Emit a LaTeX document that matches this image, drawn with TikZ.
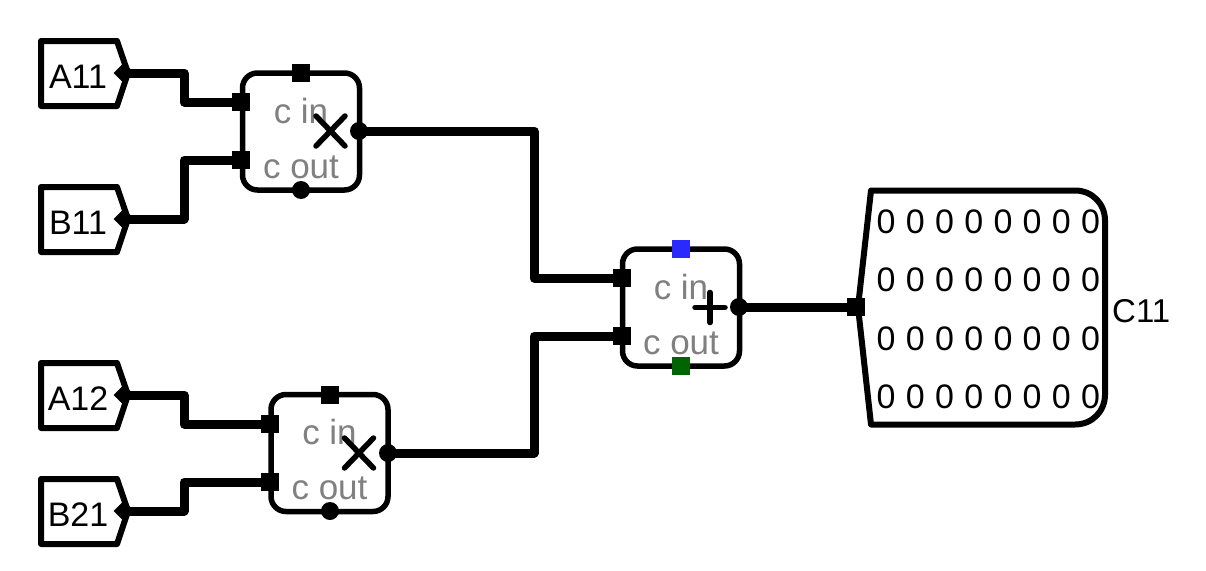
\documentclass[tikz,border=0pt]{standalone}
\usepackage{fontspec}
\setmainfont{Liberation Sans}
\usetikzlibrary{shapes.geometric}
\definecolor{portblue}{HTML}{2A2AFF}
\definecolor{portgreen}{HTML}{006400}
\definecolor{labelgray}{HTML}{808080}
\tikzset{
  wire/.style={line width=9pt,line join=round},
  tagbox/.style={line width=6pt,line join=round,fill=white},
  opbox/.style={draw,line width=5.5pt,rounded corners=15pt,minimum width=117pt,minimum height=117pt,inner sep=0pt,fill=white},
  sqport/.style={rectangle,fill=black,minimum size=18pt,inner sep=0pt},
  dotport/.style={circle,fill=black,minimum size=18pt,inner sep=0pt},
  dmdport/.style={diamond,fill=black,minimum width=21pt,minimum height=21pt,inner sep=0pt},
  bigtxt/.style={font=\fontsize{34}{38}\selectfont,inner sep=0pt},
  graytxt/.style={font=\fontsize{35}{40}\selectfont,text=labelgray,inner sep=0pt,anchor=base},
  opmark/.style={line width=5.5pt,line cap=round},
}
\newcommand{\inputtag}[4]{% name, top y, tip y, text
  \draw[tagbox] (41,#2) -- (117,#2) -- (128,#3) -- (117,#2+65) -- (41,#2+65) -- cycle;
  \node[bigtxt] (#1) at (78,#3+3.5) {#4};
  \node[dmdport] (#1p) at (124,#3) {};
}
\begin{document}
\begin{tikzpicture}[x=1pt,y=-1pt]
\useasboundingbox (0,0) rectangle (1206,570);
\fill[white] (0,0) rectangle (1206,570);
\coordinate (v1) at (184,0);
\coordinate (v2) at (534,0);
% input tags
\inputtag{a11}{41}{73}{A11}
\inputtag{b11}{187}{219}{B11}
\inputtag{a12}{363}{395}{A12}
\inputtag{b21}{479}{511}{B21}
% operator boxes
\node[opbox] (m1) at (301,131.5) {};
\node[opbox] (m2) at (329.5,453) {};
\node[opbox] (s1) at (681,307.5) {};
% labels
\foreach \n/\cx/\cy in {m1/301/131.5,m2/329.5/453,s1/681/307.5}{
  \node[graytxt] (\n ci) at (\cx,\cy-8.5) {c in};
  \node[graytxt] (\n co) at (\cx,\cy+46.5) {c out};
}
% marks
\draw[opmark] (316,116) -- (345,146) (345,116) -- (316,146);
\draw[opmark] (344.5,438) -- (373.5,468) (373.5,438) -- (344.5,468);
\draw[opmark] (695,307.5) -- (725,307.5) (710,292.5) -- (710,322.5);
% ports
\node[sqport] (m1t) at (301,73) {};
\node[sqport] (m1a) at (241,102) {};
\node[sqport] (m1b) at (241,160) {};
\node[dotport] (m1o) at (359,131) {};
\node[dotport] (m1c) at (301,190) {};
\node[sqport] (m2t) at (330,395) {};
\node[sqport] (m2a) at (270,424) {};
\node[sqport] (m2b) at (270,482) {};
\node[dotport] (m2o) at (388,453) {};
\node[dotport] (m2c) at (330,511) {};
\node[sqport,fill=portblue] (s1t) at (681,249) {};
\node[sqport] (s1a) at (622,278) {};
\node[sqport] (s1b) at (622,336) {};
\node[dotport] (s1o) at (739,307) {};
\node[sqport,fill=portgreen] (s1c) at (681,366) {};
% result block
\draw[line width=6pt,line join=round,fill=white] (871,190.5) -- (1075,190.5)
  .. controls (1092,190.5) and (1105,203.5) .. (1105,220.5) -- (1105,394.5)
  .. controls (1105,411.5) and (1092,424.5) .. (1075,424.5) -- (871,424.5) -- (858,307) -- cycle;
\foreach \r/\y in {1/222,2/280,3/338.5,4/397}{
  \node[bigtxt] (row\r) at (988.4,\y) {\spaceskip=10.3pt 0 0 0 0 0 0 0 0};
}
\node[bigtxt,font=\fontsize{33}{38}\selectfont,anchor=west] (c11) at (1112,311) {C11};
\node[sqport] (cin) at (856,307) {};
% wires
\draw[wire] (a11p.center) -- (a11p.center -| v1) -- (v1 |- m1a.center) -- (m1a.center);
\draw[wire] (b11p.center) -- (b11p.center -| v1) -- (v1 |- m1b.center) -- (m1b.center);
\draw[wire] (a12p.center) -- (a12p.center -| v1) -- (v1 |- m2a.center) -- (m2a.center);
\draw[wire] (b21p.center) -- (b21p.center -| v1) -- (v1 |- m2b.center) -- (m2b.center);
\draw[wire] (m1o.center) -- (m1o.center -| v2) -- (v2 |- s1a.center) -- (s1a.center);
\draw[wire] (m2o.center) -- (m2o.center -| v2) -- (v2 |- s1b.center) -- (s1b.center);
\draw[wire] (s1o.center) -- (cin.center);
\end{tikzpicture}
\end{document}
